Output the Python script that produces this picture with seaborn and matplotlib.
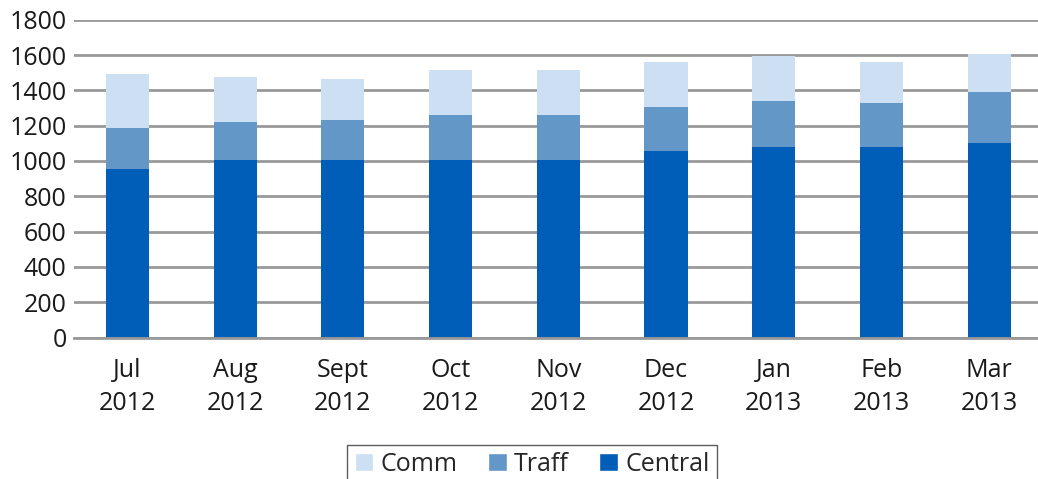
import matplotlib
matplotlib.use("Agg")
import matplotlib.pyplot as plt
import seaborn as sns
import numpy as np
import pandas as pd
from matplotlib.patches import Patch

months = ["Jul\n2012", "Aug\n2012", "Sept\n2012", "Oct\n2012", "Nov\n2012",
          "Dec\n2012", "Jan\n2013", "Feb\n2013", "Mar\n2013"]
central = [955, 1005, 1005, 1005, 1005, 1055, 1080, 1080, 1100]
traff = [230, 215, 225, 255, 255, 250, 260, 250, 290]
comm = [305, 255, 235, 255, 255, 255, 255, 230, 215]

c_comm = "#cddff2"
c_traff = "#6397c8"
c_central = "#005eb8"

sns.set_theme(style="white")
plt.rcParams['font.family'] = ['Open Sans', 'DejaVu Sans']

fig = plt.figure(figsize=(10.38, 4.79), dpi=100)
ax = fig.add_axes([73.5/1038, 1 - 337.5/479, (1043-73.5)/1038, (337.5-19.7)/479])

df = pd.DataFrame({"month": months,
                   "central": central,
                   "traff": np.array(central) + np.array(traff),
                   "comm": np.array(central) + np.array(traff) + np.array(comm)})

for col, c in [("comm", c_comm), ("traff", c_traff), ("central", c_central)]:
    sns.barplot(data=df, x="month", y=col, color=c, width=0.4, ax=ax,
                saturation=1, edgecolor="none", linewidth=0, zorder=3)

ax.set_ylim(0, 1800)
ax.set_xlim(-0.5, len(months) - 0.5)
ax.set_yticks(range(0, 1801, 200))
ax.yaxis.grid(True, color="#999999", linewidth=2, zorder=0)
ax.set_axisbelow(True)
ax.set_xlabel("")
ax.set_ylabel("")

for s in ["top", "right", "left"]:
    ax.spines[s].set_visible(False)
ax.spines["bottom"].set_color("#999999")
ax.spines["bottom"].set_linewidth(2)
ax.spines["bottom"].set_zorder(4)

ax.tick_params(axis="y", labelsize=18, colors="#1a1a1a", length=0, pad=5)
ax.set_xticks(np.arange(len(months)))
ax.set_xticklabels(months, fontsize=18, color="#1a1a1a", linespacing=1.38)
ax.tick_params(axis="x", length=0, pad=15)
ax.set_xticks(np.arange(-0.5, len(months), 1), minor=True)
ax.tick_params(axis="x", which="minor", length=12, width=1.2, color="#444444", direction="out")

handles = [Patch(facecolor=c_comm, label="Comm"),
           Patch(facecolor=c_traff, label="Traff"),
           Patch(facecolor=c_central, label="Central")]
leg = fig.legend(handles=handles, loc="lower center", bbox_to_anchor=(532/1038, -18/479),
                 ncol=3, frameon=True, fontsize=18, handlelength=0.75, handleheight=0.75,
                 handletextpad=0.3, columnspacing=1.2, fancybox=False, borderpad=0.3)
leg.get_frame().set_edgecolor("#333333")
leg.get_frame().set_linewidth(1)

fig.savefig("out.png", dpi=100)
